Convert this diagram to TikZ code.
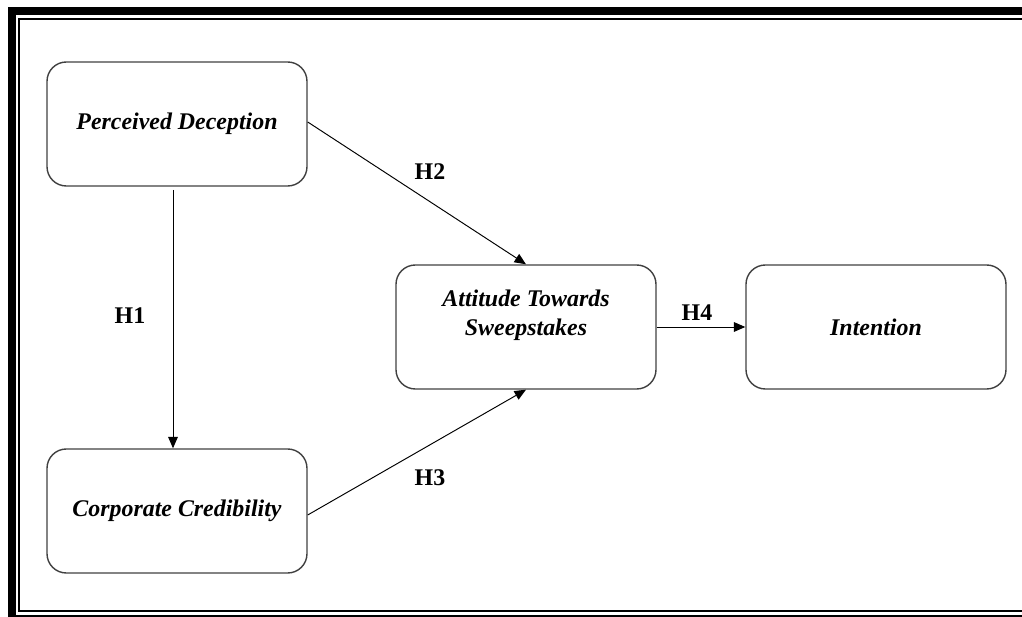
\documentclass[tikz,border=0pt]{standalone}
\usepackage{fontspec}
\setmainfont{Liberation Serif}
\usetikzlibrary{arrows.meta}

\begin{document}
\begin{tikzpicture}[x=0.02cm, y=-0.02cm,
    construct/.style={draw=black!75, line width=0.8pt, rounded corners=11pt,
        minimum width=260*0.02cm, minimum height=124*0.02cm, align=center,
        font=\fontsize{13.6}{16.5}\selectfont\bfseries\itshape},
    hyp/.style={font=\fontsize{13.6}{16.5}\selectfont\bfseries},
    path/.style={draw, line width=0.55pt, -{Triangle[length=6.5pt, width=5.5pt]}}]
                \useasboundingbox (0,0) rectangle (1022,617);
                \clip (0,0) rectangle (1022,617);
                % Frame
                \draw [line width=4.5pt] (12,11) rectangle (1040,619);
                \draw [line width=1.1pt] (19,19) rectangle (1030,611);

                % Constructs
                \node [construct] (pd) at (177,124) {Perceived Deception};
                \node [construct] (cc) at (177,511) {Corporate Credibility};
                \node [construct] (ats) at (526,327) {Attitude Towards\\Sweepstakes\\ };
                \node [construct] (int) at (876,327) {Intention};

                % Hypotheses
                \coordinate (pdb) at (173,190);
                \draw [path] (pdb) -- (pdb |- cc.north);
                \draw [path] (pd.east |- 0,122) -- (ats.north);
                \draw [path] (cc.east |- 0,515) -- (ats.south);
                \draw [path] (ats.east) -- (int.west);
                \node [hyp] (h1) at (130,316) {H1};
                \node [hyp] (h2) at (430,172) {H2};
                \node [hyp] (h3) at (430,478) {H3};
                \node [hyp] (h4) at (697,313) {H4};
            \end{tikzpicture}
\end{document}
